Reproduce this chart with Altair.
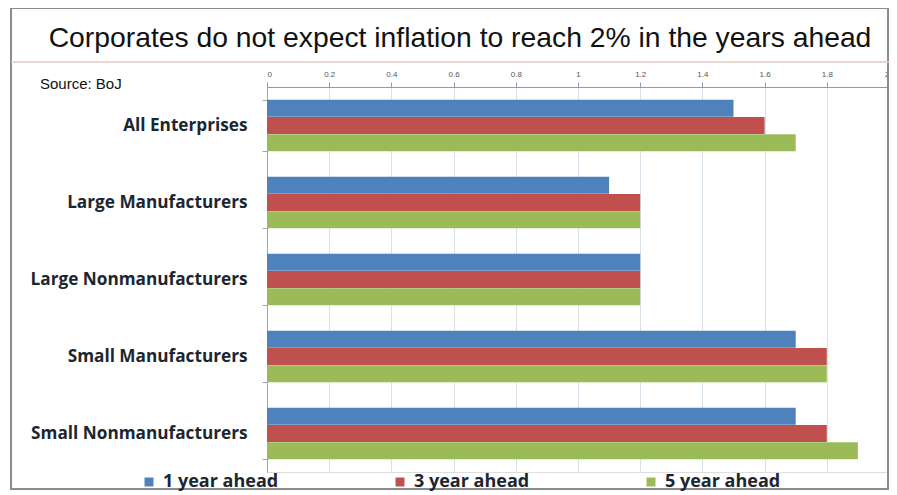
import altair as alt
import pandas as pd

categories = ["All Enterprises", "Large Manufacturers", "Large Nonmanufacturers",
              "Small Manufacturers", "Small Nonmanufacturers"]
series = ["1 year ahead", "3 year ahead", "5 year ahead"]
one_year = [1.5, 1.1, 1.2, 1.7, 1.7]
three_year = [1.6, 1.2, 1.2, 1.8, 1.8]
five_year = [1.7, 1.2, 1.2, 1.8, 1.9]
x_ticks = [0, 0.2, 0.4, 0.6, 0.8, 1, 1.2, 1.4, 1.6, 1.8, 2]
colors = ["#4F81BD", "#C0504D", "#9BBB59"]

rows = []
for s, vals in zip(series, [one_year, three_year, five_year]):
    for c, v in zip(categories, vals):
        rows.append({"category": c, "series": s, "value": v})
df = pd.DataFrame(rows)

W, H = 622, 385
FONT = "Open Sans"
TXT = "#1c2630"

bars = alt.Chart(df).mark_bar(size=17).encode(
    x=alt.X("value:Q",
            scale=alt.Scale(domain=[0, 2], nice=False),
            axis=alt.Axis(orient="top", values=x_ticks, title=None, format="~g",
                          labelFontSize=8, labelColor="#555555", labelPadding=4,
                          tickSize=5, tickColor="#8a9bb0", domainColor="#8a9bb0",
                          gridColor="#d8e0ea", labelFont="Liberation Sans",
                          labelFlush=True)),
    y=alt.Y("category:N", sort=categories,
            scale=alt.Scale(paddingInner=0.325, paddingOuter=0.1625),
            axis=alt.Axis(title=None, labelFont=FONT, labelFontWeight="bold",
                          labelFontSize=17.2, labelColor=TXT, labelPadding=15,
                          labelLimit=300, tickSize=5, tickBand="extent",
                          tickColor="#9aa6b4", domainColor="#9aa6b4", grid=False)),
    yOffset=alt.YOffset("series:N", sort=series),
    color=alt.Color("series:N", sort=series,
                    scale=alt.Scale(domain=series, range=colors),
                    legend=alt.Legend(title=None, orient="none", legendX=-127, legendY=386,
                                      direction="horizontal", columns=3,
                                      columnPadding=112, symbolType="square",
                                      symbolSize=80, symbolStrokeWidth=0,
                                      labelFont=FONT, labelFontWeight="bold",
                                      labelFontSize=18, labelColor=TXT,
                                      labelOffset=5, labelLimit=300)),
)

title_txt = alt.Chart(pd.DataFrame({"t": ["Corporates do not expect inflation to reach 2% in the years ahead"]})).mark_text(
    font="Liberation Sans", fontSize=28.3, color="#111111", align="center", baseline="middle"
).encode(text="t:N", x=alt.value(193), y=alt.value(-48))

source_txt = alt.Chart(pd.DataFrame({"t": ["Source: BoJ"]})).mark_text(
    font="Liberation Sans", fontSize=15, color="#111111", align="left", baseline="middle"
).encode(text="t:N", x=alt.value(-227), y=alt.value(-3))

sep = alt.Chart(pd.DataFrame({"a": [0]})).mark_rule(color="#e0c8c0", strokeWidth=1.5).encode(
    x=alt.value(-256), x2=alt.value(622), y=alt.value(-25))

frame = alt.Chart(pd.DataFrame({"a": [0]})).mark_rect(fill=None, stroke="#8c8c8c", strokeWidth=2).encode(
    x=alt.value(-256), x2=alt.value(621), y=alt.value(-79), y2=alt.value(402))

chart = alt.layer(frame, sep, bars, title_txt, source_txt).properties(
    width=W, height=H,
    autosize=alt.AutoSizeParams(type="none"),
    padding={"left": 259, "top": 79, "right": 0, "bottom": 22},
).configure_view(stroke=None).configure(background="white")

chart.save("out.html", embed_options={"renderer": "svg", "actions": False})
